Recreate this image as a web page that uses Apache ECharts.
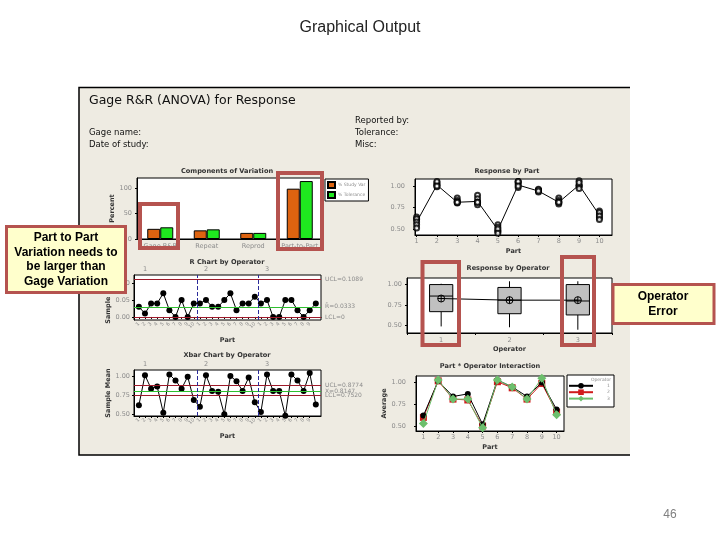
<!DOCTYPE html>
<html>
<head>
<meta charset="utf-8">
<title>Graphical Output</title>
<script src="https://cdn.jsdelivr.net/npm/echarts@6/dist/echarts.min.js"></script>
<style>
  html, body { margin: 0; padding: 0; background: #fff; }
  #chart { width: 720px; height: 540px; }
</style>
</head>
<body>
<div id="chart"></div>
<script>
const parts = ['1', '2', '3', '4', '5', '6', '7', '8', '9', '10'];
const operators = ['1', '2', '3'];
const components = ['Gage R&R', 'Repeat', 'Reprod', 'Part-to-Part'];
const studyVar = [20, 17, 12, 99];
const tolerance = [23, 19, 12, 114];
const percentTicks = [0, 50, 100];

// two trials per operator and part
const op1Trial1 = [0.64, 1.02, 0.86, 0.89, 0.55, 1.04, 0.95, 0.86, 1.00, 0.71];
const op1Trial2 = [0.61, 1.01, 0.82, 0.85, 0.48, 1.02, 0.95, 0.81, 1.00, 0.67];
const op2Trial1 = [0.62, 1.04, 0.83, 0.81, 0.52, 1.05, 0.95, 0.83, 1.01, 0.69];
const op2Trial2 = [0.58, 0.99, 0.80, 0.78, 0.47, 0.98, 0.93, 0.79, 0.97, 0.63];
const op3Trial1 = [0.55, 1.05, 0.81, 0.81, 0.50, 1.05, 0.96, 0.81, 1.06, 0.65];
const op3Trial2 = [0.51, 1.00, 0.81, 0.81, 0.45, 1.00, 0.94, 0.81, 1.04, 0.61];
const partMeans = [0.58, 1.01, 0.81, 0.82, 0.49, 1.01, 0.94, 0.81, 1.01, 0.66];

const xbarOp1 = [0.62, 1.02, 0.84, 0.87, 0.52, 1.03, 0.95, 0.84, 1.00, 0.69];
const xbarOp2 = [0.60, 1.02, 0.81, 0.80, 0.50, 1.01, 0.94, 0.81, 0.99, 0.66];
const xbarOp3 = [0.53, 1.03, 0.81, 0.81, 0.48, 1.03, 0.95, 0.81, 1.05, 0.63];

const rangeOp1 = [0.03, 0.01, 0.04, 0.04, 0.07, 0.02, 0.00, 0.05, 0.00, 0.04];
const rangeOp2 = [0.04, 0.05, 0.03, 0.03, 0.05, 0.07, 0.02, 0.04, 0.04, 0.06];
const rangeOp3 = [0.04, 0.05, 0.00, 0.00, 0.05, 0.05, 0.02, 0.00, 0.02, 0.04];

const rUCL = 0.1089, rBar = 0.0333, rLCL = 0;
const xUCL = 0.8774, xBar = 0.8147, xLCL = 0.7520;

// min, Q1, median, Q3, max
const boxOp1 = [0.49, 0.67, 0.86, 1.00, 1.01];
const boxOp2 = [0.48, 0.645, 0.81, 0.965, 1.04];
const boxOp3 = [0.45, 0.63, 0.80, 1.00, 1.04];
const opMeans = [0.83, 0.81, 0.81];

// --- styling helpers ---
const FONT = 'DejaVu Sans';
const gray = '#8c8c8c';
const darkRed = '#9e1a2a';
const clGreen = '#2fbf2f';
const navy = '#2b2b9a';
const frameRed = '#b5534f';

const lbl = extra => Object.assign({ color: gray, fontSize: 6.5, fontFamily: FONT }, extra);
const nameStyle = { color: '#333', fontSize: 6.5, fontWeight: 'bold', fontFamily: FONT };
const ticks = { show: true, length: 2, lineStyle: { color: '#000' } };
const blackLine = { show: true, lineStyle: { color: '#000' } };
const fix2 = v => v.toFixed(2);
const seq30 = Array.from({ length: 30 }, (_, i) => i + 1);

function partScatter(trials) {
  return trials.map((v, i) => [i + 1, v]);
}

function controlLimits(ucl, cl, lcl, clLabel) {
  return {
    silent: true,
    symbol: 'none',
    label: { position: 'end', distance: 4, color: gray, fontSize: 6, fontFamily: FONT },
    data: [
      { yAxis: ucl, lineStyle: { color: darkRed, width: 1, type: 'solid' }, label: { formatter: 'UCL=' + ucl.toFixed(4) } },
      { yAxis: cl, lineStyle: { color: clGreen, width: 1, type: 'solid' }, label: { formatter: clLabel } },
      { yAxis: lcl, lineStyle: { color: darkRed, width: 1, type: 'solid' }, label: { formatter: 'LCL=' + (lcl === 0 ? '0' : lcl.toFixed(4)) } },
      { xAxis: 10.5, lineStyle: { color: navy, width: 1, type: [4, 2] }, label: { show: false } },
      { xAxis: 20.5, lineStyle: { color: navy, width: 1, type: [4, 2] }, label: { show: false } }
    ]
  };
}

function sampleXAxis(grid) {
  return {
    type: 'value', gridIndex: grid, min: 0.2, max: 30.85,
    axisLine: blackLine, splitLine: { show: false },
    axisTick: { show: true, length: 2, lineStyle: { color: '#000' }, customValues: seq30 },
    axisLabel: lbl({ fontSize: 5, rotate: 45, margin: 3, customValues: seq30, formatter: v => parts[(v - 1) % 10] }),
    name: 'Part', nameLocation: 'middle', nameGap: 17, nameTextStyle: nameStyle
  };
}

function operatorTopAxis(grid) {
  return {
    type: 'value', gridIndex: grid, position: 'top', min: 0.2, max: 30.85,
    axisLine: { show: false }, axisTick: { show: false }, splitLine: { show: false },
    axisLabel: lbl({ margin: 2, customValues: [2, 12, 22], formatter: v => operators[Math.floor((v - 1) / 10)] })
  };
}

function valueYAxis(grid, min, max, marks, margin, name, gap) {
  const ax = {
    type: 'value', gridIndex: grid, min: min, max: max,
    axisLine: blackLine, splitLine: { show: false },
    axisTick: { show: true, length: 2, lineStyle: { color: '#000' }, customValues: marks },
    axisLabel: lbl({ margin: margin, customValues: marks, formatter: fix2 })
  };
  if (name) {
    Object.assign(ax, { name: name, nameLocation: 'middle', nameGap: gap, nameTextStyle: nameStyle });
  }
  return ax;
}

const chartTitles = [
  ['Components of Variation', 227, 171],
  ['Response by Part', 507, 171],
  ['R Chart by Operator', 227, 262],
  ['Response by Operator', 508, 268],
  ['Xbar Chart by Operator', 227, 355],
  ['Part * Operator Interaction', 490, 366]
];

function txt(text, x, y, font, fill, align, z) {
  return {
    type: 'text', z: z || 1, silent: true,
    style: { text: text, x: x, y: y, font: font, fill: fill || '#000',
      align: align || 'left', textAlign: align || 'left', verticalAlign: 'middle', textVerticalAlign: 'middle' }
  };
}

function frame(x, y, w, h) {
  return { type: 'rect', z: 100, silent: true, shape: { x: x, y: y, width: w, height: h },
    style: { fill: 'none', stroke: frameRed, lineWidth: 4 } };
}

const graphics = [
  { type: 'rect', z: -10, silent: true, shape: { x: 79, y: 87, width: 551, height: 368 }, style: { fill: '#eeebe2' } },
  { type: 'polyline', z: -9, silent: true, shape: { points: [[630, 87.5], [79, 87.5], [79, 455], [630, 455]] },
    style: { stroke: '#000', lineWidth: 1.5, fill: 'none' } },
  txt('Graphical Output', 360, 28, '16px "Liberation Sans"', '#222', 'center'),
  txt('46', 670, 515, '12px "Liberation Sans"', '#808080', 'center'),
  txt('Gage R&R (ANOVA) for Response', 89, 101, '12.5px "DejaVu Sans"', '#111'),
  txt('Gage name:', 89, 133, '8.5px "DejaVu Sans"', '#111'),
  txt('Date of study:', 89, 145, '8.5px "DejaVu Sans"', '#111'),
  txt('Reported by:', 355, 121, '8.5px "DejaVu Sans"', '#111'),
  txt('Tolerance:', 355, 133, '8.5px "DejaVu Sans"', '#111'),
  txt('Misc:', 355, 145, '8.5px "DejaVu Sans"', '#111'),
  // legend box of the interaction plot
  { type: 'rect', z: 1, silent: true, shape: { x: 567, y: 375, width: 47, height: 32 },
    style: { fill: '#fff', stroke: '#000', lineWidth: 1 } },
  txt('Operator', 601, 380, '4.5px "DejaVu Sans"', gray, 'center', 5),
  // highlight frames
  frame(140, 204, 38, 44),
  frame(278, 173, 44, 76),
  frame(422.5, 262, 36.5, 83),
  frame(562, 257, 32, 88),
  // call-outs
  { type: 'rect', z: 100, silent: true, shape: { x: 6.5, y: 226.5, width: 119, height: 66 },
    style: { fill: '#ffffcc', stroke: frameRed, lineWidth: 3 } },
  txt('Part to Part\nVariation needs to\nbe larger than\nGage Variation', 66, 259.5,
    'bold 12px "Liberation Sans"', '#000', 'center', 101),
  { type: 'rect', z: 100, silent: true, shape: { x: 613, y: 284.5, width: 101, height: 39 },
    style: { fill: '#ffffcc', stroke: frameRed, lineWidth: 3 } },
  txt('Operator\nError', 663, 304, 'bold 12px "Liberation Sans"', '#000', 'center', 101)
];
chartTitles.forEach(t => graphics.push(txt(t[0], t[1], t[2], 'bold 6.6px "DejaVu Sans"', '#333', 'center')));
graphics.forEach(g => { if (g.style && g.style.text && g.style.text.indexOf('\n') > 0) g.style.lineHeight = 14.5; });

const circlePlus = 'path://M10,0A10,10,0,1,1,9.99,0ZM10,0L10,20M0,10L20,10';

const option = {
  animation: false,
  backgroundColor: '#fff',
  textStyle: { fontFamily: FONT },
  graphic: graphics,
  grid: [
    { left: 137, top: 178, width: 186, height: 61 },
    { left: 415, top: 179, width: 197, height: 56 },
    { left: 134, top: 275, width: 187, height: 45 },
    { left: 407, top: 278, width: 205, height: 55 },
    { left: 134, top: 370, width: 187, height: 46 },
    { left: 416, top: 376, width: 148, height: 55 }
  ].map(g => Object.assign({ show: true, backgroundColor: '#fff', borderColor: '#000', borderWidth: 1, outerBoundsMode: 'none' }, g)),
  legend: [
    {
      data: ['% Study Var', '% Tolerance'], orient: 'vertical', left: 325, top: 179,
      itemWidth: 7, itemHeight: 6, itemGap: 2, padding: [2, 3, 2, 2], icon: 'rect',
      backgroundColor: '#fff', borderColor: '#000', borderWidth: 1,
      textStyle: { fontSize: 4.5, color: gray, fontFamily: FONT, padding: [0, 0, 0, -2] }
    },
    {
      data: ['1', '2', '3'], orient: 'vertical', left: 568, top: 383,
      itemWidth: 24, itemHeight: 7, itemGap: 0.8, padding: 0,
      textStyle: { fontSize: 4.5, color: gray, fontFamily: FONT, padding: [0, 0, 0, 9] }
    }
  ],
  xAxis: [
    { type: 'category', gridIndex: 0, data: components, axisLine: blackLine, axisTick: { show: false },
      axisLabel: lbl({ margin: 4, interval: 0 }) },
    { type: 'value', gridIndex: 1, min: 0.92, max: 10.62, axisLine: blackLine, splitLine: { show: false },
      axisTick: { show: true, length: 2, lineStyle: { color: '#000' }, customValues: partMeans.map((_, i) => i + 1) },
      axisLabel: lbl({ margin: 3, customValues: partMeans.map((_, i) => i + 1), formatter: v => parts[v - 1] }),
      name: 'Part', nameLocation: 'middle', nameGap: 13, nameTextStyle: nameStyle },
    sampleXAxis(2),
    operatorTopAxis(2),
    { type: 'category', gridIndex: 3, data: operators, axisLine: blackLine, axisTick: ticks,
      axisLabel: lbl({ margin: 4 }),
      name: 'Operator', nameLocation: 'middle', nameGap: 13, nameTextStyle: nameStyle },
    sampleXAxis(4),
    operatorTopAxis(4),
    { type: 'category', gridIndex: 5, data: parts, axisLine: blackLine, axisTick: Object.assign({ alignWithLabel: true }, ticks),
      axisLabel: lbl({ margin: 3, interval: 0 }),
      name: 'Part', nameLocation: 'middle', nameGap: 13, nameTextStyle: nameStyle }
  ],
  yAxis: [
    { type: 'value', gridIndex: 0, min: 0, max: 120, axisLine: blackLine,
      axisTick: { show: true, length: 2, lineStyle: { color: '#000' }, customValues: percentTicks },
      splitLine: { show: false }, axisLabel: lbl({ margin: 5, customValues: percentTicks }),
      name: 'Percent', nameLocation: 'middle', nameGap: 21, nameTextStyle: nameStyle },
    valueYAxis(1, 0.43, 1.08, [0.5, 0.75, 1.0], 10),
    valueYAxis(2, -0.009, 0.124, [0, 0.05, 0.10], 4, 'Sample Range', 21),
    valueYAxis(3, 0.41, 1.08, [0.5, 0.75, 1.0], 5),
    valueYAxis(4, 0.477, 1.089, [0.5, 0.75, 1.0], 4, 'Sample Mean', 21),
    valueYAxis(5, 0.443, 1.076, [0.5, 0.75, 1.0], 10, 'Average', 22)
  ],
  series: [
    // Components of Variation
    { name: '% Study Var', type: 'bar', xAxisIndex: 0, yAxisIndex: 0, data: studyVar, barWidth: 13, barGap: '0%',
      itemStyle: { color: '#dd6310', borderColor: '#000', borderWidth: 1 } },
    { name: '% Tolerance', type: 'bar', xAxisIndex: 0, yAxisIndex: 0, data: tolerance, barWidth: 13,
      itemStyle: { color: '#1fe81f', borderColor: '#000', borderWidth: 1 } },

    // Response by Part
    { type: 'line', xAxisIndex: 1, yAxisIndex: 1, data: partScatter(partMeans), showSymbol: false,
      lineStyle: { color: '#000', width: 1 }, z: 3 },
    ...[op1Trial1, op1Trial2, op2Trial1, op2Trial2, op3Trial1, op3Trial2].map(t => ({
      type: 'scatter', xAxisIndex: 1, yAxisIndex: 1, data: partScatter(t), symbol: 'emptyCircle', symbolSize: 5,
      itemStyle: { color: '#000', borderWidth: 1 }, z: 4
    })),

    // R chart
    { type: 'line', xAxisIndex: 2, yAxisIndex: 2,
      data: [...rangeOp1, ...rangeOp2, ...rangeOp3].map((v, i) => [i + 1, v]),
      symbol: 'circle', symbolSize: 6, itemStyle: { color: '#000' }, lineStyle: { color: '#000', width: 1 },
      markLine: controlLimits(rUCL, rBar, rLCL, 'R\u0304=' + rBar.toFixed(4)) },

    // Response by Operator
    { type: 'custom', xAxisIndex: 4, yAxisIndex: 3,
      data: [boxOp1, boxOp2, boxOp3].map((b, i) => [i].concat(b)),
      encode: { x: 0, y: [1, 2, 3, 4, 5] },
      renderItem: (params, api) => {
        const x = api.value(0);
        const pt = k => api.coord([x, api.value(k)]);
        const [cx, yMin] = pt(1);
        const yQ1 = pt(2)[1], yMed = pt(3)[1], yQ3 = pt(4)[1], yMax = pt(5)[1];
        const half = api.size([1, 0])[0] * 0.17;
        const s = { stroke: '#000', lineWidth: 1 };
        return { type: 'group', children: [
          { type: 'line', shape: { x1: cx, y1: yMax, x2: cx, y2: yQ3 }, style: s },
          { type: 'line', shape: { x1: cx, y1: yQ1, x2: cx, y2: yMin }, style: s },
          { type: 'rect', shape: { x: cx - half, y: yQ3, width: 2 * half, height: yQ1 - yQ3 },
            style: { fill: '#c0c0c0', stroke: '#000', lineWidth: 1 } },
          { type: 'line', shape: { x1: cx - half, y1: yMed, x2: cx + half, y2: yMed }, style: s }
        ] };
      } },
    { type: 'line', xAxisIndex: 4, yAxisIndex: 3, data: opMeans, symbol: circlePlus, symbolSize: 7,
      itemStyle: { color: 'rgba(0,0,0,0)', borderColor: '#000', borderWidth: 1 },
      lineStyle: { color: '#000', width: 1 }, z: 5 },

    // Xbar chart
    { type: 'line', xAxisIndex: 5, yAxisIndex: 4,
      data: [...xbarOp1, ...xbarOp2, ...xbarOp3].map((v, i) => [i + 1, v]),
      symbol: 'circle', symbolSize: 6, itemStyle: { color: '#000' }, lineStyle: { color: '#000', width: 1 },
      markLine: controlLimits(xUCL, xBar, xLCL, 'X\u0304=' + xBar.toFixed(4)) },

    // Part * Operator Interaction
    { name: '1', type: 'line', xAxisIndex: 7, yAxisIndex: 5, data: xbarOp1, symbol: 'circle', symbolSize: 6,
      itemStyle: { color: '#000' }, lineStyle: { color: '#000', width: 1 }, z: 4 },
    { name: '2', type: 'line', xAxisIndex: 7, yAxisIndex: 5, data: xbarOp2, symbol: 'rect', symbolSize: 7,
      itemStyle: { color: '#d01c1c' }, lineStyle: { color: '#d01c1c', width: 1 }, z: 3 },
    { name: '3', type: 'line', xAxisIndex: 7, yAxisIndex: 5, data: xbarOp3, symbol: 'diamond', symbolSize: 9,
      itemStyle: { color: '#6cbf6c' }, lineStyle: { color: '#6cbf6c', width: 1 }, z: 5 }
  ]
};

const chart = echarts.init(document.getElementById('chart'), null, { renderer: 'canvas' });
chart.setOption(option);
window.addEventListener('resize', () => chart.resize());
</script>
</body>
</html>
